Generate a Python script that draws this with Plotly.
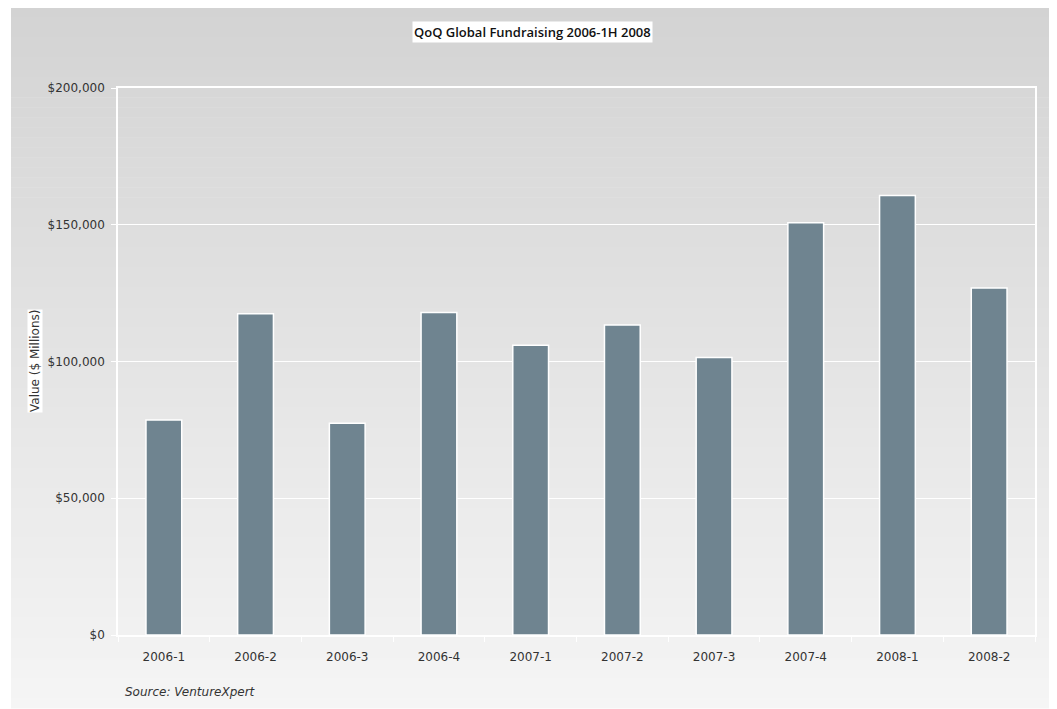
import plotly.graph_objects as go

categories = ["2006-1", "2006-2", "2006-3", "2006-4", "2007-1", "2007-2",
              "2007-3", "2007-4", "2008-1", "2008-2"]
values = [78600, 117500, 77400, 117900, 105900, 113300, 101500, 150700, 160700, 126900]
y_tickvals = [0, 50000, 100000, 150000, 200000]
y_ticktext = ["$0", "$50,000", "$100,000", "$150,000", "$200,000"]

OFF = 8  # page body margin
W, H = 1041, 701
L, T = 118 - OFF, 88 - OFF
R = W - (1035 - OFF)
B = H - (635 - OFF)
pw, ph = W - L - R, H - T - B

def px_x(p):
    # p: reference page pixel
    return (p - OFF - L) / pw

def px_y(p):
    return (H - B - (p - OFF)) / ph

fig = go.Figure()
fig.add_trace(go.Bar(
    x=categories, y=values,
    marker=dict(color="#6f8490", line=dict(color="white", width=1.5)),
    hoverinfo="x+y",
))

# background gradient (decoration)
shapes = []
n = 70
top, bot = 7, 708
c0, c1 = 211, 245
for i in range(n):
    y0p = top + (bot - top) * i / n
    y1p = top + (bot - top) * (i + 1) / n + 0.6
    c = round(c0 + (c1 - c0) * (i + 0.5) / n)
    shapes.append(dict(type="rect", xref="paper", yref="paper", layer="below",
                       x0=px_x(11), x1=px_x(1060), y0=px_y(y1p), y1=px_y(y0p),
                       fillcolor=f"rgb({c},{c},{c})", line=dict(width=0)))

font_main = "'DejaVu Sans', sans-serif"

fig.update_layout(
    width=W, height=H,
    margin=dict(l=L, r=R, t=T, b=B),
    paper_bgcolor="white",
    plot_bgcolor="rgba(0,0,0,0)",
    shapes=shapes,
    bargap=0.61,
    showlegend=False,
    font=dict(family=font_main, size=12, color="#333333"),
    xaxis=dict(
        type="category",
        showgrid=False, showline=True, linecolor="white", linewidth=1.5,
        ticks="outside", tickson="boundaries", tickcolor="white", ticklen=5,
        ticklabelstandoff=10,
        tickfont=dict(family=font_main, size=12, color="#333333"),
        mirror=True, zeroline=False,
    ),
    yaxis=dict(
        range=[0, 200000], tickvals=y_tickvals, ticktext=y_ticktext,
        showgrid=True, gridcolor="white", gridwidth=1,
        showline=True, linecolor="white", linewidth=1.5, mirror=True,
        ticks="outside", tickcolor="white", ticklen=5,
        ticklabelstandoff=4,
        tickfont=dict(family=font_main, size=12, color="#333333"),
        zeroline=False,
    ),
    annotations=[
        dict(text="QoQ Global Fundraising 2006-1H 2008", xref="paper", yref="paper",
             x=px_x(532), y=px_y(32), xanchor="center", yanchor="middle",
             showarrow=False, bgcolor="white",
             font=dict(family="'Open Sans', sans-serif", size=13, color="#111111", weight=600),
             borderpad=1),
        dict(text="Value ($ Millions)", xref="paper", yref="paper",
             x=px_x(35), y=px_y(361), xanchor="center", yanchor="middle",
             showarrow=False, textangle=-90, bgcolor="white",
             font=dict(family=font_main, size=12, color="#333333"), borderpad=0),
        dict(text="<i>Source: VentureXpert</i>", xref="paper", yref="paper",
             x=px_x(123), y=px_y(692), xanchor="left", yanchor="middle",
             showarrow=False,
             font=dict(family=font_main, size=12, color="#333333")),
    ],
)

fig.write_html("out.html")
